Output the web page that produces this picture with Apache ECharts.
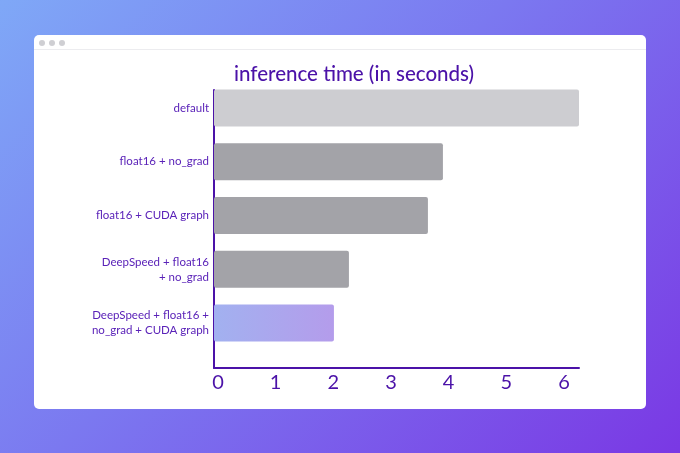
<!DOCTYPE html>
<html>
<head>
<meta charset="utf-8">
<style>
    html,body{
        margin: 0;
        padding: 0;
        width: 680px;
        height: 453px;
        overflow: hidden;
    }
    body{
        background: linear-gradient(135deg, #7fa8f7 0%, #7b78f0 45%, #7a38e4 100%);
        position: relative;
    }
    .win{
        position: absolute;
        left: 34px;
        top: 35px;
        width: 612px;
        height: 374px;
        background: #fff;
        border-radius: 5px;
    }
    .win-bar{
        height: 14px;
        border-bottom: 1px solid #ececef;
    }
    .dot{
        position: absolute;
        top: 5px;
        width: 6px;
        height: 6px;
        border-radius: 50%;
        background: #cfcfd3;
    }
    #chart{
        position: absolute;
        left: 0;
        top: 0;
        width: 680px;
        height: 453px;
    }
</style>
</head>
<body>
<div class="win">
    <div class="win-bar"></div>
    <div class="dot" style="left:5px"></div>
    <div class="dot" style="left:15px"></div>
    <div class="dot" style="left:25px"></div>
</div>
<div id="chart"></div>
<script src="https://cdn.jsdelivr.net/npm/echarts@6/dist/echarts.min.js"></script>
<script>
    // 数据
    var categories = ['default', 'float16 + no_grad', 'float16 + CUDA graph',
        'DeepSpeed + float16\n+ no_grad', 'DeepSpeed + float16 +\nno_grad + CUDA graph'];
    var times = [6.33, 3.97, 3.71, 2.34, 2.08];
    var tickMax = 6.33;

    var purple = '#4b12a8';
    var fontName = 'Lato';

    var barColors = ['#cdcdd1', '#a3a3a8', '#a3a3a8', '#a3a3a8',
        new echarts.graphic.LinearGradient(0, 0, 1, 0, [
            { offset: 0, color: '#a2b1f0' },
            { offset: 1, color: '#b49ceb' }
        ])];

    var barData = times.map(function (v, i) {
        return { value: v, itemStyle: { color: barColors[i] } };
    });

    var option = {
        animation: false,
        title: {
            text: 'inference time (in seconds)',
            left: 349,
            top: 59,
            textAlign: 'center',
            textStyle: {
                fontFamily: fontName,
                fontSize: 20.5,
                fontWeight: 500,
                color: purple
            }
        },
        grid: [
            // bars
            { left: 214, right: 101, top: 81, height: 269 },
            // axis frame
            { left: 214, right: 101, top: 90, bottom: 85 }
        ],
        xAxis: [{
            gridIndex: 0,
            type: 'value',
            min: 0,
            max: tickMax,
            show: false
        }, {
            gridIndex: 1,
            type: 'value',
            min: 0,
            max: tickMax,
            interval: 1,
            axisLine: { show: true, lineStyle: { color: purple, width: 2 } },
            axisTick: { show: false },
            splitLine: { show: false },
            axisLabel: {
                showMaxLabel: false,
                margin: 5,
                padding: [0, 0, 0, 8],
                fontFamily: fontName,
                fontSize: 20,
                fontWeight: 400,
                color: purple
            }
        }],
        yAxis: [{
            gridIndex: 0,
            type: 'category',
            inverse: true,
            data: categories,
            axisLine: { show: false },
            axisTick: { show: false },
            axisLabel: {
                margin: 5,
                fontFamily: fontName,
                fontSize: 11.5,
                lineHeight: 15,
                color: '#5a22b8'
            }
        }, {
            gridIndex: 1,
            type: 'value',
            axisLine: { show: true, lineStyle: { color: purple, width: 2 } },
            axisTick: { show: false },
            axisLabel: { show: false },
            splitLine: { show: false }
        }],
        series: [{
            name: 'inference time',
            type: 'bar',
            xAxisIndex: 0,
            yAxisIndex: 0,
            barWidth: 37,
            data: barData,
            itemStyle: { borderRadius: 2 }
        }]
    };

    echarts.init(document.getElementById('chart')).setOption(option);
</script>
</body>
</html>
